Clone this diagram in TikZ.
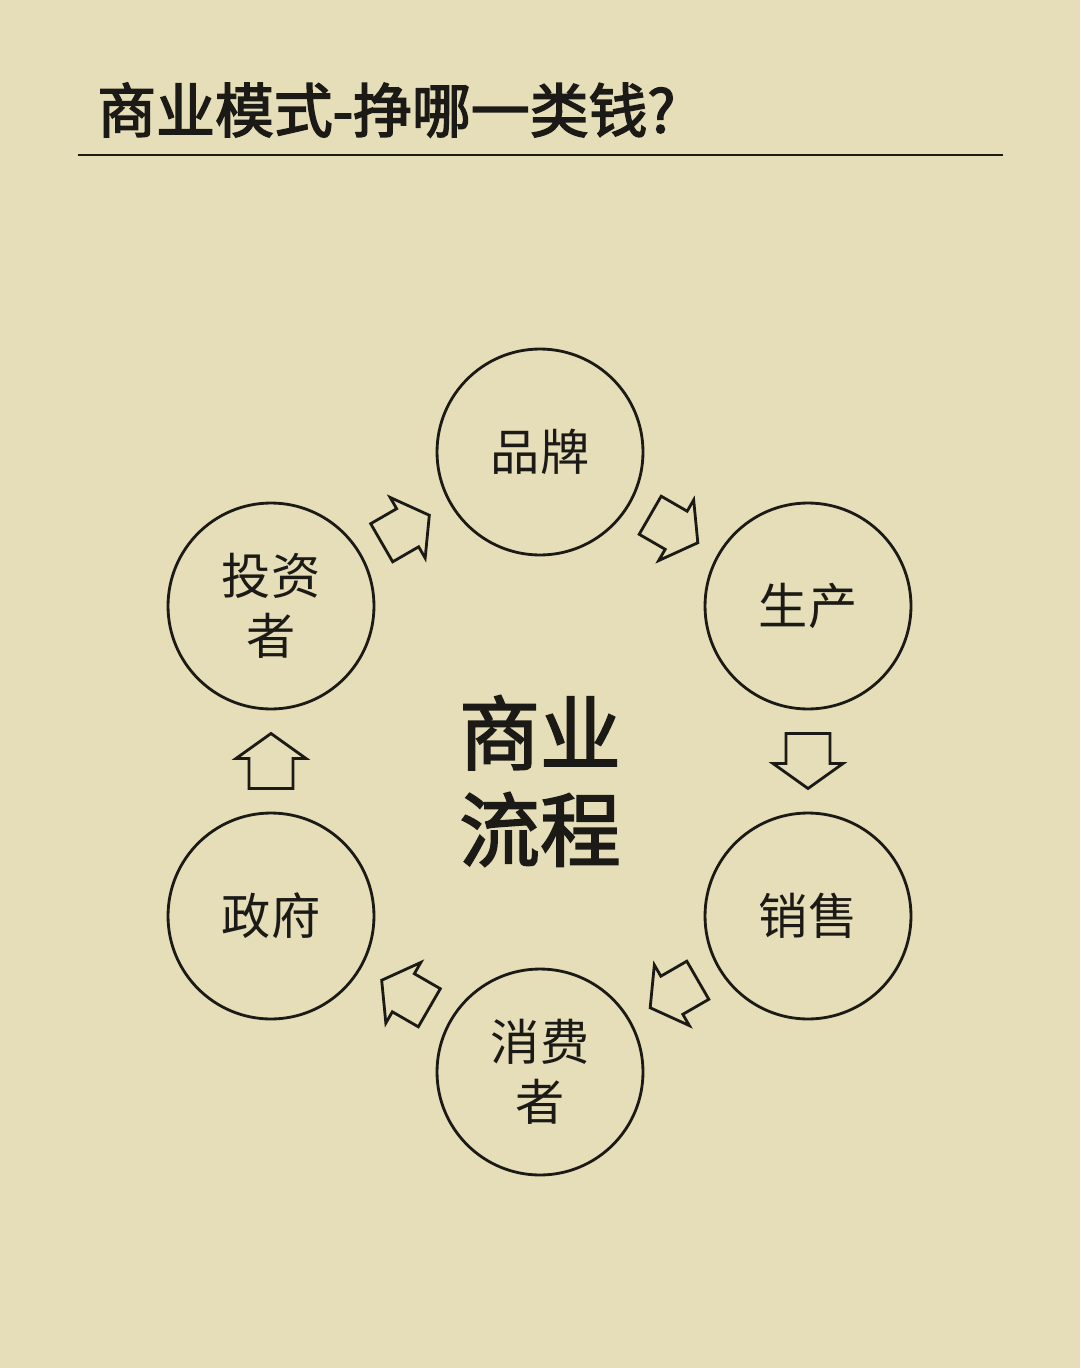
\documentclass[tikz,border=0pt]{standalone}
\usepackage{fontspec}
\setmainfont{Noto Sans CJK SC}
\newfontfamily\semibold[FakeBold=2.2]{Noto Sans CJK SC}
\newfontfamily\titlebold[FakeBold=2.6]{Noto Sans CJK SC}
\usetikzlibrary{calc}
\definecolor{bg}{RGB}{229,222,184}
\definecolor{ink}{RGB}{28,26,22}
\begin{document}
\begin{tikzpicture}[x=0.02cm,y=-0.02cm,
  stage/.style={circle,draw=ink,line width=1.6pt,minimum size=4.12cm,inner sep=0pt,align=center,
    text=ink,font=\fontsize{28pt}{34pt}\selectfont},
  blockarrow/.style={draw=ink,line width=1.6pt,line join=miter},
]
\fill[bg] (0,0) rectangle (1080,1368);
\useasboundingbox (0,0) rectangle (1080,1368);
% title
\node[anchor=west,inner sep=0pt,text=ink,font=\titlebold\fontsize{33.5pt}{40pt}\selectfont] (title) at (97,110) {商业模式-挣哪一类钱?};
\coordinate (ruleL) at (78,155);
\coordinate (ruleR) at (1003,155);
\draw[ink,line width=1.2pt] (ruleL) -- (ruleR);
% stages
\node[stage] (brand) at (540,452) {品牌};
\node[stage] (prod) at (808,606) {生产};
\node[stage] (sale) at (808,916) {销售};
\node[stage] (cons) at (540,1072) {消费\\者};
\node[stage] (gov) at (271,916) {政府};
\node[stage] (inv) at (271,606) {投资\\者};
% center
\node[align=center,inner sep=0pt,text=ink,font=\semibold\fontsize{46pt}{55pt}\selectfont] (core) at (540,781) {商业\\流程};
% block arrows
\foreach \a/\b/\ang in {inv/brand/30, brand/prod/-30, prod/sale/-90, sale/cons/-150, cons/gov/150, gov/inv/90}{
  \draw[blockarrow,shift={($(\a)!0.5!(\b)$)},rotate=\ang]
    (-27.5,-22) -- (2.5,-22) -- (2.5,-35) -- (27.5,0) -- (2.5,35) -- (2.5,22) -- (-27.5,22) -- cycle;
}
\end{tikzpicture}
\end{document}
